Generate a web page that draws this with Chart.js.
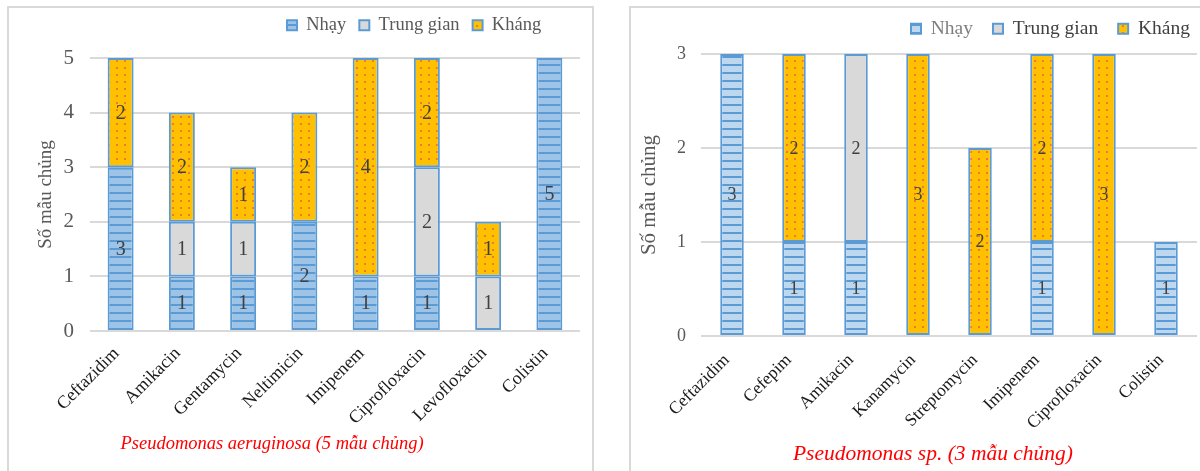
<!DOCTYPE html>
<html><head><meta charset="utf-8">
<script src="https://cdn.jsdelivr.net/npm/chart.js@4.4.1/dist/chart.umd.min.js"></script>
<style>
html,body{margin:0;padding:0;background:#fff;}
body{width:1200px;height:471px;overflow:hidden;position:relative;}
.panel{position:absolute;border:2px solid #d9d9d9;background:#fff;overflow:hidden;}
#p1{left:7px;top:6px;width:583px;height:480px;}
#p2{left:629px;top:6px;width:600px;height:480px;}
canvas{position:absolute;left:0;top:0;}
</style></head><body>
<div class="panel" id="p1"><canvas id="c1" width="583" height="463"></canvas></div>
<div class="panel" id="p2"><canvas id="c2" width="569" height="463"></canvas></div>
<script>
// ---------- data ----------
const seriesNames = ['Nhạy', 'Trung gian', 'Kháng'];
const yAxisTitle = 'Số mẫu chủng';

const leftCategories = ['Ceftazidim','Amikacin','Gentamycin','Neltimicin','Imipenem','Ciprofloxacin','Levofloxacin','Colistin'];
const leftNhay       = [3, 1, 1, 2, 1, 1, 0, 5];
const leftTrungGian  = [0, 1, 1, 0, 0, 2, 1, 0];
const leftKhang      = [2, 2, 1, 2, 4, 2, 1, 0];
const leftYTicks     = [0, 1, 2, 3, 4, 5];
const leftTitle      = 'Pseudomonas aeruginosa (5 mẫu chủng)';

const rightCategories = ['Ceftazidim','Cefepim','Amikacin','Kanamycin','Streptomycin','Imipenem','Ciprofloxacin','Colistin'];
const rightNhay       = [3, 1, 1, 0, 0, 1, 0, 1];
const rightTrungGian  = [0, 0, 2, 0, 0, 0, 0, 0];
const rightKhang      = [0, 2, 0, 3, 2, 2, 3, 0];
const rightYTicks     = [0, 1, 2, 3];
const rightTitle      = 'Pseudomonas sp. (3 mẫu chủng)';

// ---------- patterns ----------
function stripePattern(fill, line, h) {
  const c = document.createElement('canvas'); c.width = 8; c.height = h;
  const x = c.getContext('2d');
  x.fillStyle = fill; x.fillRect(0, 0, 8, h);
  x.fillStyle = line; x.fillRect(0, 0, 8, 2);
  return x.createPattern(c, 'repeat');
}
function dotPattern(fill, dot) {
  const c = document.createElement('canvas'); c.width = 8; c.height = 7;
  const x = c.getContext('2d');
  x.fillStyle = fill; x.fillRect(0, 0, 8, 7);
  x.fillStyle = dot; x.fillRect(3, 3, 2, 2);
  return x.createPattern(c, 'repeat');
}
const BORDER = '#5b9bd5';
const SERIF = '"Liberation Serif", "Times New Roman", serif';

// value labels inside segments
const valueLabels = {
  id: 'valueLabels',
  afterDatasetsDraw(chart, args, opts) {
    const ctx = chart.ctx;
    ctx.save();
    ctx.font = opts.size + 'px ' + SERIF;
    ctx.fillStyle = '#404040';
    ctx.textAlign = 'center';
    ctx.textBaseline = 'middle';
    chart.data.datasets.forEach((ds, i) => {
      const meta = chart.getDatasetMeta(i);
      meta.data.forEach((el, j) => {
        const v = ds.data[j];
        if (v) ctx.fillText(String(v), el.x, (el.y + el.base) / 2 + 1);
      });
    });
    ctx.restore();
  }
};

// moves legend / title blocks to the reference positions
const placer = {
  id: 'placer',
  afterLayout(chart, args, o) {
    const lg = chart.legend;
    if (lg) {
      const w = lg.right - lg.left, h = lg.bottom - lg.top;
      lg.left = o.legendLeft; lg.right = lg.left + w;
      lg.top = o.legendTop; lg.bottom = lg.top + h;
    }
    const tb = chart.titleBlock;
    if (tb) {
      const w = tb.right - tb.left;
      tb.left = o.titleCenter - w / 2; tb.right = tb.left + w;
    }
  }
};

function build(id, c) {
  const nhayFill = stripePattern(c.nhayColor, BORDER, 8);
  const tgFill = '#d9d9d9';
  const khangFill = dotPattern('#ffc000', '#f0783c');
  const common = { borderColor: BORDER, borderWidth: 2, borderSkipped: false,
                   categoryPercentage: 1, barPercentage: c.barPct };
  const datasets = [
    Object.assign({ label: seriesNames[0], data: c.nhay.map(v => v || null), backgroundColor: nhayFill }, common),
    Object.assign({ label: seriesNames[1], data: c.tg.map(v => v || null), backgroundColor: tgFill }, common),
    Object.assign({ label: seriesNames[2], data: c.khang.map(v => v || null), backgroundColor: khangFill }, common)
  ];
  const chart = new Chart(document.getElementById(id), {
    type: 'bar',
    data: { labels: c.categories, datasets },
    plugins: [valueLabels, placer],
    options: {
      responsive: false, animation: false,
      layout: { padding: { left: 0, right: c.padRight, top: 40, bottom: 10 } },
      plugins: {
        tooltip: { enabled: false },
        valueLabels: { size: c.valueSize },
        placer: { legendLeft: c.legendLeft, legendTop: c.legendTop, titleCenter: c.titleCenter },
        legend: {
          position: 'top', align: 'start',
          labels: {
            boxWidth: 10, boxHeight: 10, padding: c.legendPad,
            font: { family: SERIF, size: c.legendSize },
            color: '#595959',
            generateLabels(ch) {
              return ch.data.datasets.map((ds, i) => ({
                text: ds.label, fillStyle: ds.backgroundColor, strokeStyle: BORDER, lineWidth: 2,
                fontColor: c.legendColors[i], datasetIndex: i, hidden: false
              }));
            }
          }
        },
        title: {
          display: true, position: 'bottom', text: c.title, color: '#ff0000',
          padding: 0, font: { family: SERIF, size: c.titleSize, style: 'italic', weight: 'normal', lineHeight: 1.2 }
        }
      },
      scales: {
        x: {
          stacked: true,
          grid: { display: false },
          border: { display: false },
          ticks: {
            autoSkip: false, minRotation: 45, maxRotation: 45, color: '#1a1a1a',
            labelOffset: c.labelOffset, padding: c.xTickPad,
            font: { family: SERIF, size: c.xSize }
          },
          afterFit(s) { s.height = c.xHeight; }
        },
        y: {
          stacked: true, min: 0, max: c.yTicks[c.yTicks.length - 1],
          afterBuildTicks(s) { s.ticks = c.yTicks.map(v => ({ value: v })); },
          grid: { color: '#d9d9d9', lineWidth: 2, drawTicks: false },
          border: { display: false },
          ticks: { color: '#595959', padding: c.yTickPad, font: { family: SERIF, size: c.ySize } },
          title: { display: true, text: yAxisTitle, color: '#595959', padding: { top: c.yTitlePad, bottom: 0 },
                   font: { family: SERIF, size: c.yTitleSize } },
          afterFit(s) { s.width = c.area.left; }
        }
      }
    }
  });
  // align the plot area with the reference
  const ca = chart.chartArea;
  const p = chart.options.layout.padding;
  chart.options.layout.padding = { left: 0, right: c.padRight,
    top: p.top + (c.area.top - ca.top), bottom: p.bottom + (ca.bottom - c.area.bottom) };
  chart.update('none');
  return chart;
}

build('c1', {
  categories: leftCategories, nhay: leftNhay, tg: leftTrungGian, khang: leftKhang,
  yTicks: leftYTicks, title: leftTitle, nhayColor: '#9dc3e6',
  area: { left: 81, top: 50, bottom: 323 }, padRight: 12, barPct: 0.424,
  xHeight: 102, titleSize: 18.5, titleCenter: 263,
  legendLeft: 265, legendTop: -5, legendPad: 13, legendSize: 18.5,
  legendColors: ['#595959', '#595959', '#595959'],
  valueSize: 20, xSize: 18, ySize: 21, yTickPad: 16, yTitleSize: 19, yTitlePad: 26,
  labelOffset: -4, xTickPad: 4
});
build('c2', {
  categories: rightCategories, nhay: rightNhay, tg: rightTrungGian, khang: rightKhang,
  yTicks: rightYTicks, title: rightTitle, nhayColor: '#bdd7ee',
  area: { left: 70, top: 46, bottom: 328 }, padRight: 3, barPct: 0.38,
  xHeight: 105, titleSize: 21.5, titleCenter: 302,
  legendLeft: 260, legendTop: -9, legendPad: 20, legendSize: 19.5,
  legendColors: ['#7f7f7f', '#404040', '#404040'],
  valueSize: 18, xSize: 17.5, ySize: 18, yTickPad: 15, yTitleSize: 21, yTitlePad: 6,
  labelOffset: -5, xTickPad: 6
});
</script>
</body></html>
